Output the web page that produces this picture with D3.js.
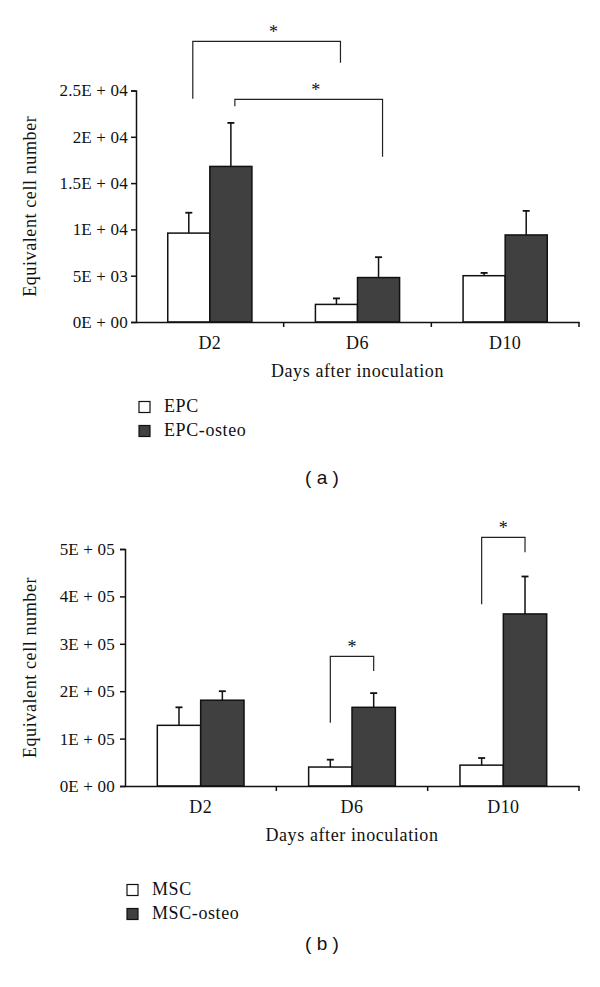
<!DOCTYPE html>
<html><head><meta charset="utf-8">
<script src="https://cdn.jsdelivr.net/npm/d3@7"></script>
<style>
body{margin:0;background:#fff;}
svg text{font-family:"Liberation Serif","Times New Roman",serif;fill:#111;}
</style></head>
<body><svg id="c" width="600" height="987"></svg>
<script>
// ---- data ----
const categories = ["D2", "D6", "D10"];
const epcValues = [9600, 1900, 5000];
const epcErrors = [2200, 650, 300];
const epcOsteoValues = [16800, 4800, 9400];
const epcOsteoErrors = [4700, 2200, 2600];
const epcTicks = [0, 5000, 10000, 15000, 20000, 25000];
const epcTickLabels = ["0E + 00", "5E + 03", "1E + 04", "1.5E + 04", "2E + 04", "2.5E + 04"];
const epcSeries = ["EPC", "EPC-osteo"];
// brackets: [cat1, seriesIdx1, cat2, seriesIdx2, topValue, leftLegEnd, rightLegEnd]
const epcBrackets = [
  ["D2", 0, "D6", 0, 30300, 24100, 28000],
  ["D2", 1, "D6", 1, 24050, 23300, 17850]
];

const mscValues = [128000, 40000, 44000];
const mscErrors = [38000, 15500, 15000];
const mscOsteoValues = [181000, 166000, 363000];
const mscOsteoErrors = [19000, 30000, 79000];
const mscTicks = [0, 100000, 200000, 300000, 400000, 500000];
const mscTickLabels = ["0E + 00", "1E + 05", "2E + 05", "3E + 05", "4E + 05", "5E + 05"];
const mscSeries = ["MSC", "MSC-osteo"];
const mscBrackets = [
  ["D6", 0, "D6", 1, 273600, 133500, 242600],
  ["D10", 0, "D10", 1, 524700, 383300, 493000]
];

const xTitle = "Days after inoculation";
const yTitle = "Equivalent cell number";
const fills = ["#ffffff", "#404040"];

const svg = d3.select("#c");

function panel(o) {
  const g = svg.append("g");
  const x = d3.scaleBand().domain(categories).range([o.left, o.right]).padding(0);
  const inner = d3.scaleBand().domain([0, 1])
    .range([x.bandwidth() * (1 - o.group) / 2, x.bandwidth() * (1 + o.group) / 2]).padding(0);
  const y = d3.scaleLinear().domain([0, o.max]).range([o.bottom, o.top]);

  const series = [
    {vals: o.a, errs: o.ae},
    {vals: o.b, errs: o.be}
  ];
  series.forEach((s, si) => {
    categories.forEach((c, ci) => {
      const bx = x(c) + inner(si), bw = inner.bandwidth();
      const cx = bx + bw / 2;
      g.append("line").attr("x1", cx).attr("x2", cx)
        .attr("y1", y(s.vals[ci])).attr("y2", y(s.vals[ci] + s.errs[ci]))
        .attr("stroke", "#111").attr("stroke-width", 1.5);
      g.append("line").attr("x1", cx - 3.5).attr("x2", cx + 3.5)
        .attr("y1", y(s.vals[ci] + s.errs[ci])).attr("y2", y(s.vals[ci] + s.errs[ci]))
        .attr("stroke", "#111").attr("stroke-width", 1.8);
      g.append("rect").attr("x", bx).attr("width", bw)
        .attr("y", y(s.vals[ci])).attr("height", y(0) - y(s.vals[ci]))
        .attr("fill", fills[si]).attr("stroke", "#111").attr("stroke-width", 1.5);
    });
  });

  // y axis
  const ya = d3.axisLeft(y).tickValues(o.ticks).tickSize(5).tickPadding(o.tickPad)
    .tickFormat((d, i) => o.tickLabels[i]);
  const yg = g.append("g").attr("transform", `translate(${o.left},0)`).call(ya);
  yg.select(".domain").attr("stroke", "#111").attr("stroke-width", 1.5);
  yg.selectAll(".tick line").attr("stroke", "#111").attr("stroke-width", 1.5);
  yg.selectAll(".tick text").attr("font-size", 17).attr("letter-spacing", 0.2)
    .attr("font-family", "Liberation Serif").attr("fill", "#111");

  // x axis
  const xa = d3.axisBottom(x).tickSize(0).tickPadding(14);
  const xg = g.append("g").attr("transform", `translate(0,${o.bottom})`).call(xa);
  xg.select(".domain").attr("stroke", "#111").attr("stroke-width", 1.5);
  xg.selectAll(".tick text").attr("font-size", 18).attr("letter-spacing", 0.4)
    .attr("font-family", "Liberation Serif").attr("fill", "#111");
  const bounds = categories.map(c => x(c) + x.bandwidth());
  g.selectAll(null).data(bounds).enter().append("line")
    .attr("x1", d => d).attr("x2", d => d).attr("y1", o.bottom).attr("y2", o.bottom + 5)
    .attr("stroke", "#111").attr("stroke-width", 1.5);

  // titles
  g.append("text").attr("x", (o.left + o.right) / 2).attr("y", o.bottom + 55)
    .attr("text-anchor", "middle").attr("font-size", 18).attr("letter-spacing", 0.6).text(xTitle);
  g.append("text").attr("transform", `translate(${o.yTitleX},${(o.top + o.bottom) / 2}) rotate(-90)`)
    .attr("text-anchor", "middle").attr("dominant-baseline", "middle")
    .attr("font-size", 18).attr("letter-spacing", 0.6).text(yTitle);

  // brackets
  o.brackets.forEach(b => {
    const x1 = x(b[0]) + inner(b[1]) + inner.bandwidth() / 2 + o.bdx;
    const x2 = x(b[2]) + inner(b[3]) + inner.bandwidth() / 2 + o.bdx;
    const path = d3.path();
    path.moveTo(x1, y(b[5])); path.lineTo(x1, y(b[4])); path.lineTo(x2, y(b[4])); path.lineTo(x2, y(b[6]));
    g.append("path").attr("d", path.toString()).attr("fill", "none").attr("stroke", "#222").attr("stroke-width", 1.2);
    g.append("text").attr("x", (x1 + x2) / 2 + o.starDx).attr("y", y(b[4]) - 3)
      .attr("text-anchor", "middle").attr("font-size", 18).text("*");
  });

  // legend
  o.series.forEach((name, i) => {
    const ly = o.legendY + i * 24;
    g.append("rect").attr("x", o.legendX).attr("y", ly - 6).attr("width", 11).attr("height", 11)
      .attr("fill", fills[i]).attr("stroke", "#111").attr("stroke-width", 1.2);
    g.append("text").attr("x", o.legendX + 25).attr("y", ly).attr("dominant-baseline", "middle")
      .attr("font-size", 18).attr("letter-spacing", 0.6).text(name);
  });

  svg.append("text").attr("x", 322).attr("y", o.labelY).attr("text-anchor", "middle")
    .attr("dominant-baseline", "middle").style("font-family", "'Liberation Sans', Arial, sans-serif")
    .attr("font-size", 19).text(o.label);
}

panel({left: 136, right: 579, top: 90.5, bottom: 322, max: 25000, group: 0.57,
  a: epcValues, ae: epcErrors, b: epcOsteoValues, be: epcOsteoErrors,
  ticks: epcTicks, tickLabels: epcTickLabels, tickPad: 3, brackets: epcBrackets, bdx: 4, starDx: 7,
  series: epcSeries, legendX: 139, legendY: 407.5, yTitleX: 32, label: "( a )", labelY: 479});

panel({left: 125, right: 579, top: 549, bottom: 786, max: 500000, group: 0.573,
  a: mscValues, ae: mscErrors, b: mscOsteoValues, be: mscOsteoErrors,
  ticks: mscTicks, tickLabels: mscTickLabels, tickPad: 5, brackets: mscBrackets, bdx: 0, starDx: 0,
  series: mscSeries, legendX: 127, legendY: 890.5, yTitleX: 32, label: "( b )", labelY: 945});
</script></body></html>
